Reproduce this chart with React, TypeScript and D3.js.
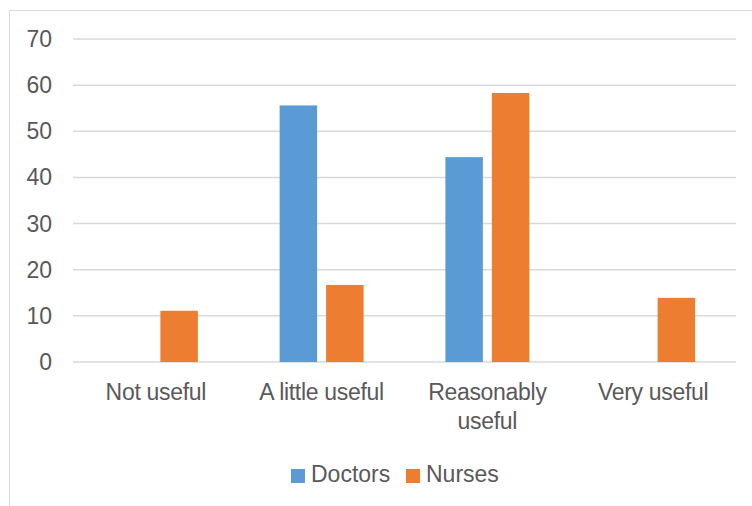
import React from "react";
import * as d3 from "d3";

const categories = ["Not useful", "A little useful", "Reasonably useful", "Very useful"];
const categoryLines = [["Not useful"], ["A little useful"], ["Reasonably", "useful"], ["Very useful"]];
const seriesNames = ["Doctors", "Nurses"];
const doctors = [0, 55.6, 44.4, 0];
const nurses = [11.1, 16.7, 58.3, 13.9];
const yTicks = [0, 10, 20, 30, 40, 50, 60, 70];
const colors = ["#5B9BD5", "#ED7D31"];

const W = 752;
const H = 506;
const font = "'Liberation Sans', Arial, sans-serif";
const textColor = "#595959";

export default function App() {
  const x = d3.scaleBand<string>().domain(categories).range([73, 736]).padding(0);
  const y = d3.scaleLinear().domain([0, 70]).range([362, 39]);
  const values = [doctors, nurses];

  return (
    <svg width={W} height={H} style={{ position: "absolute", left: 0, top: 0 }} fontFamily={font}>
      <rect x={0} y={0} width={W} height={H} fill="#fff" />
      <path d={`M9.5,${H}V10.5H${W}`} fill="none" stroke="#d9d9d9" strokeWidth={1} />
      {yTicks.map((t) => (
        <g key={t}>
          <line x1={73} x2={736} y1={y(t)} y2={y(t)} stroke="#d9d9d9" strokeWidth={1.5} />
          <text x={52} y={y(t)} dy="0.35em" textAnchor="end" fontSize={23} fill={textColor}>
            {t}
          </text>
        </g>
      ))}
      {categories.map((c, i) => {
        const cx = (x(c) as number) + x.bandwidth() / 2;
        const sub = d3
          .scaleBand<string>()
          .domain(seriesNames)
          .range([cx - 42, cx + 42])
          .paddingInner(0.1935)
          .paddingOuter(0);
        return (
          <g key={c}>
            {seriesNames.map((s, si) => {
              const v = values[si][i];
              if (!v) return null;
              return (
                <rect
                  key={s}
                  x={sub(s) as number}
                  width={sub.bandwidth()}
                  y={y(v)}
                  height={y(0) - y(v)}
                  fill={colors[si]}
                />
              );
            })}
            <text textAnchor="middle" fontSize={23} fill={textColor} letterSpacing={-0.3}>
              {categoryLines[i].map((line, li) => (
                <tspan key={li} x={cx} y={400 + li * 29}>
                  {line}
                </tspan>
              ))}
            </text>
          </g>
        );
      })}
      <g>
        <rect x={291} y={469} width={14} height={14} fill={colors[0]} />
        <text x={311} y={482} fontSize={23} fill={textColor}>
          {seriesNames[0]}
        </text>
        <rect x={406} y={469} width={14} height={14} fill={colors[1]} />
        <text x={426} y={482} fontSize={23} fill={textColor}>
          {seriesNames[1]}
        </text>
      </g>
    </svg>
  );
}
